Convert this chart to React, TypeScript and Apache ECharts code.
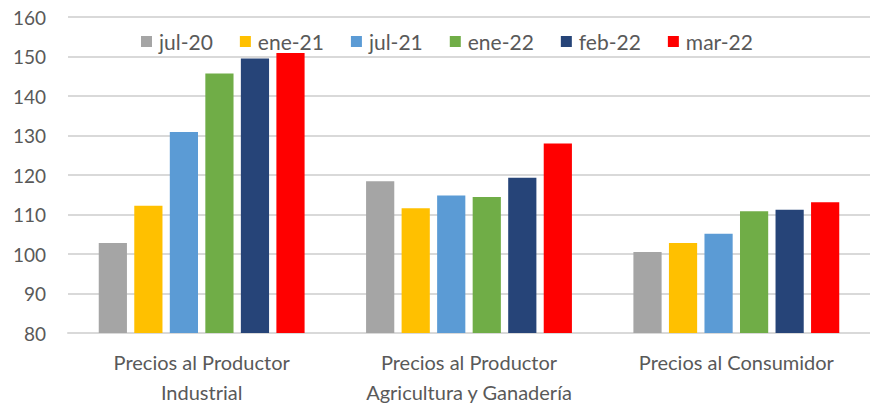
import React, { useEffect, useRef } from "react";
import * as echarts from "echarts";

const categories = [
  "Precios al Productor\nIndustrial",
  "Precios al Productor\nAgricultura y Ganadería",
  "Precios al Consumidor",
];
const seriesNames = ["jul-20", "ene-21", "jul-21", "ene-22", "feb-22", "mar-22"];
const jul20 = [102.8, 118.4, 100.5];
const ene21 = [112.2, 111.6, 102.8];
const jul21 = [130.9, 114.8, 105.1];
const ene22 = [145.7, 114.4, 110.8];
const feb22 = [149.5, 119.3, 111.2];
const mar22 = [150.9, 128.0, 113.1];
const colors = ["#A5A5A5", "#FFC000", "#5B9BD5", "#70AD47", "#264478", "#FF0000"];
const yTicks = { min: 80, max: 160, interval: 10 };

export default function App() {
  const ref = useRef<HTMLDivElement>(null);
  useEffect(() => {
    document.body.style.margin = "0";
    const chart = echarts.init(ref.current!, null, { renderer: "svg" });
    const values = [jul20, ene21, jul21, ene22, feb22, mar22];
    const font = "Lato, 'Open Sans', sans-serif";
    chart.setOption({
      animation: false,
      textStyle: { fontFamily: font },
      legend: {
        data: seriesNames,
        top: 26,
        left: 136,
        icon: "rect",
        itemWidth: 11,
        itemHeight: 11,
        itemGap: 27,
        textStyle: { fontSize: 21, color: "#595959", fontFamily: font, padding: [0, 0, 0, 2] },
      },
      grid: { left: 68, top: 17, width: 810, bottom: 72, containLabel: false },
      xAxis: {
        type: "category",
        data: categories,
        axisLine: { show: true, lineStyle: { color: "#D9D9D9", width: 2 } },
        axisTick: { show: false },
        axisLabel: {
          color: "#595959",
          fontSize: 20,
          lineHeight: 30,
          margin: 14,
          interval: 0,
          hideOverlap: false,
          fontFamily: font,
        },
      },
      yAxis: {
        type: "value",
        min: yTicks.min,
        max: yTicks.max,
        interval: yTicks.interval,
        axisLine: { show: false },
        axisTick: { show: false },
        axisLabel: { color: "#595959", fontSize: 19, margin: 22, fontFamily: font },
        splitLine: { lineStyle: { color: "#D9D9D9", width: 2 } },
      },
      series: seriesNames.map((name, i) => ({
        name,
        type: "bar",
        data: values[i],
        barGap: "26%",
        barCategoryGap: "23%",
        itemStyle: { color: colors[i] },
      })),
    });
    return () => chart.dispose();
  }, []);
  return <div ref={ref} style={{ width: 870, height: 407 }} />;
}
